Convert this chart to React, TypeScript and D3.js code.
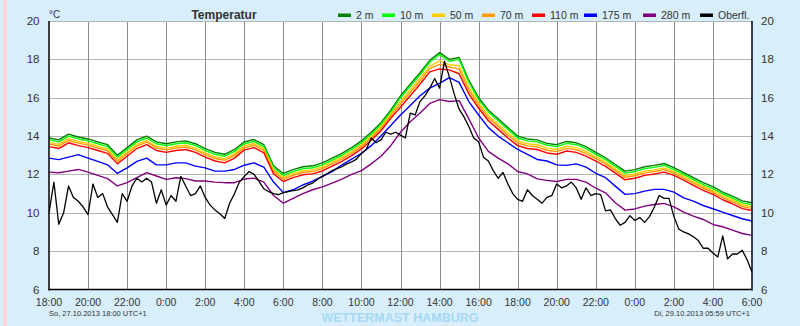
import React, { useEffect, useRef } from 'react';
import * as d3 from 'd3';

const W = 800;
const H = 326;

const seriesNames = ['2 m', '10 m', '50 m', '70 m', '110 m', '175 m', '280 m', 'Oberfl.'];
const seriesColors = ['#008000', '#00ff00', '#ffcc00', '#ff9900', '#ff0000', '#0000ff', '#800080', '#000000'];

const tickHours = [0, 2, 4, 6, 8, 10, 12, 14, 16, 18, 20, 22, 24, 26, 28, 30, 32, 34, 36];
const tickLabels = ['18:00', '20:00', '22:00', '0:00', '2:00', '4:00', '6:00', '8:00', '10:00', '12:00',
  '14:00', '16:00', '18:00', '20:00', '22:00', '0:00', '2:00', '4:00', '6:00'];
const yTicks = [6, 8, 10, 12, 14, 16, 18, 20];

// half-hourly values, 18:00 Sun -> 06:00 Tue
const t2m = [13.9, 13.8, 14.1, 13.95, 13.85, 13.7, 13.55, 13.0, 13.4, 13.8,
  14.0, 13.7, 13.6, 13.7, 13.75, 13.6, 13.35, 13.15, 13.05, 13.3,
  13.7, 13.82, 13.55, 12.45, 12.05, 12.25, 12.4, 12.45, 12.6, 12.85,
  13.1, 13.4, 13.75, 14.2, 14.7, 15.35, 16.1, 16.7, 17.3, 17.95,
  18.35, 18.0, 18.1, 16.9, 16.0, 15.35, 14.9, 14.45, 14.0, 13.85,
  13.8, 13.62, 13.55, 13.72, 13.65, 13.45, 13.15, 12.87, 12.52, 12.17,
  12.25, 12.4, 12.47, 12.57, 12.35, 12.1, 11.83, 11.57, 11.36, 11.08,
  10.87, 10.62, 10.52];
const t10m = [13.8, 13.7, 14.0, 13.85, 13.75, 13.6, 13.45, 12.9, 13.3, 13.7,
  13.9, 13.6, 13.5, 13.6, 13.65, 13.5, 13.25, 13.05, 12.95, 13.2,
  13.6, 13.72, 13.45, 12.35, 11.95, 12.15, 12.3, 12.35, 12.5, 12.75,
  13.0, 13.3, 13.65, 14.1, 14.6, 15.25, 16.0, 16.6, 17.2, 17.85,
  18.25, 17.9, 18.0, 16.8, 15.9, 15.25, 14.8, 14.35, 13.9, 13.75,
  13.7, 13.52, 13.45, 13.62, 13.55, 13.35, 13.05, 12.77, 12.42, 12.07,
  12.15, 12.3, 12.37, 12.47, 12.25, 12.0, 11.73, 11.47, 11.26, 10.98,
  10.77, 10.52, 10.42];
const t50m = [13.67, 13.57, 13.87, 13.72, 13.62, 13.47, 13.32, 12.77, 13.17, 13.57,
  13.77, 13.47, 13.37, 13.47, 13.52, 13.37, 13.12, 12.92, 12.82, 13.07,
  13.49, 13.61, 13.34, 12.24, 11.84, 12.04, 12.19, 12.24, 12.39, 12.64,
  12.89, 13.19, 13.54, 13.99, 14.49, 15.14, 15.8, 16.4, 17.0, 17.65,
  17.92, 17.72, 17.67, 16.55, 15.72, 15.07, 14.62, 14.17, 13.75, 13.6,
  13.55, 13.37, 13.3, 13.47, 13.4, 13.2, 12.92, 12.64, 12.29, 11.94,
  12.02, 12.17, 12.24, 12.34, 12.15, 11.9, 11.63, 11.37, 11.16, 10.88,
  10.67, 10.42, 10.32];
const t70m = [13.58, 13.48, 13.78, 13.63, 13.53, 13.38, 13.23, 12.68, 13.08, 13.48,
  13.68, 13.38, 13.28, 13.38, 13.43, 13.28, 13.03, 12.83, 12.73, 12.98,
  13.4, 13.52, 13.25, 12.15, 11.75, 11.95, 12.1, 12.15, 12.3, 12.55,
  12.8, 13.1, 13.45, 13.9, 14.4, 15.05, 15.67, 16.27, 16.87, 17.52,
  17.74, 17.6, 17.49, 16.4, 15.6, 14.95, 14.5, 14.05, 13.64, 13.49,
  13.44, 13.26, 13.19, 13.36, 13.29, 13.09, 12.83, 12.55, 12.2, 11.85,
  11.93, 12.08, 12.15, 12.25, 12.06, 11.81, 11.54, 11.28, 11.07, 10.79,
  10.58, 10.33, 10.23];
const t110m = [13.45, 13.35, 13.65, 13.5, 13.4, 13.25, 13.1, 12.55, 12.95, 13.35,
  13.55, 13.25, 13.15, 13.25, 13.3, 13.15, 12.9, 12.7, 12.6, 12.85,
  13.28, 13.4, 13.13, 12.03, 11.63, 11.83, 11.98, 12.03, 12.18, 12.43,
  12.68, 12.98, 13.33, 13.78, 14.28, 14.93, 15.5, 16.1, 16.7, 17.35,
  17.5, 17.45, 17.25, 16.2, 15.45, 14.8, 14.35, 13.9, 13.5, 13.35,
  13.3, 13.12, 13.05, 13.22, 13.15, 12.95, 12.7, 12.42, 12.07, 11.72,
  11.8, 11.95, 12.02, 12.12, 11.95, 11.7, 11.43, 11.17, 10.96, 10.68,
  10.47, 10.22, 10.12];
const t175m = [12.85, 12.77, 12.9, 13.03, 12.85, 12.68, 12.5, 12.05, 12.34, 12.68,
  12.85, 12.5, 12.5, 12.6, 12.6, 12.43, 12.34, 12.17, 12.17, 12.26,
  12.48, 12.6, 12.38, 11.6, 11.05, 11.2, 11.45, 11.65, 11.9, 12.15,
  12.5, 12.8, 13.1, 13.5, 14.0, 14.55, 15.1, 15.6, 16.1, 16.5,
  16.75, 17.05, 16.8, 15.8, 15.1, 14.44, 14.0, 13.65, 13.3, 13.04,
  12.78, 12.7, 12.5, 12.47, 12.55, 12.38, 12.06, 11.83, 11.39, 10.96,
  11.0, 11.13, 11.22, 11.22, 11.08, 10.78, 10.61, 10.38, 10.21, 10.03,
  9.86, 9.69, 9.57];
const t280m = [12.12, 12.09, 12.17, 12.26, 12.12, 11.95, 11.78, 11.4, 11.57, 11.83,
  12.09, 11.92, 11.74, 11.83, 11.78, 11.66, 11.66, 11.6, 11.57, 11.57,
  11.76, 11.81, 11.6, 10.9, 10.5, 10.75, 11.0, 11.2, 11.35, 11.55,
  11.75, 12.0, 12.2, 12.55, 12.95, 13.5, 14.2, 14.75, 15.2, 15.7,
  15.9, 15.8, 15.85, 14.9, 13.9, 13.2, 12.85, 12.55, 12.15, 12.03,
  11.77, 11.69, 11.63, 11.74, 11.74, 11.6, 11.28, 11.04, 10.52, 10.14,
  10.2, 10.35, 10.43, 10.49, 10.31, 10.03, 9.83, 9.65, 9.39, 9.27,
  9.1, 8.92, 8.82];
// quarter-hourly surface values
const tSurface = [10.0, 11.6, 9.4, 10.0, 11.4, 10.8, 10.6, 10.3, 9.9, 11.5,
  10.8, 11.0, 10.3, 9.9, 9.5, 11.0, 10.6, 11.4, 11.8, 11.6,
  11.8, 11.6, 10.5, 11.2, 10.4, 10.9, 10.6, 11.9, 11.4, 10.9,
  11.0, 11.4, 10.8, 10.4, 10.15, 9.95, 9.7, 10.5, 11.0, 11.6,
  11.9,
  12.15, 12.0, 11.65, 11.25, 11.1, 11.0, 10.95, 11.05, 11.1, 11.15,
  11.2, 11.3, 11.45, 11.55, 11.75, 11.9, 12.05, 12.2, 12.3, 12.4,
  12.55, 12.65, 12.8, 13.1, 13.3, 13.9, 13.65, 13.8, 14.2, 14.1,
  14.2, 14.05, 13.9, 15.2, 15.1, 15.8, 16.1, 16.5, 17.0, 16.5,
  17.9, 17.1, 16.2, 15.4, 15.0, 14.5, 13.9, 13.7, 12.9, 12.7,
  12.2, 11.8, 12.1, 11.5, 11.0, 10.7, 10.6, 11.2, 10.9, 10.7,
  10.5, 10.8, 10.9, 11.5, 11.3, 11.4, 11.6, 11.3, 10.7, 11.3,
  10.9, 11.0,
  10.95, 10.1, 10.15, 9.7, 9.35, 9.5, 9.85, 9.6, 9.75, 9.5,
  9.8, 10.3, 10.9, 10.75, 10.75, 9.8, 9.15, 9.0, 8.9, 8.75,
  8.55, 8.15, 8.15, 7.9, 7.7, 8.8, 7.6, 7.85, 7.85, 8.05,
  7.55, 6.9];

const seriesValues = [t2m, t10m, t50m, t70m, t110m, t175m, t280m, tSurface];

const font = "'Liberation Sans', Arial, sans-serif";

export default function App() {
  const ref = useRef<SVGSVGElement>(null);

  useEffect(() => {
    const svg = d3.select(ref.current);
    svg.selectAll('*').remove();

    const left = 49, right = 752, top = 21, bottom = 289.5;
    const x = d3.scaleLinear().domain([0, 36]).range([left, right]);
    const y = d3.scaleLinear().domain([6, 20]).range([bottom, top]);

    svg.append('rect').attr('width', W).attr('height', H).attr('fill', '#d8eefa');
    svg.append('rect').attr('x', 3).attr('width', 4).attr('height', H).attr('fill', '#fbd7dc');
    svg.append('rect').attr('x', left).attr('y', top).attr('width', right - left).attr('height', bottom - top).attr('fill', '#fff');

    svg.append('defs').append('clipPath').attr('id', 'plot')
      .append('rect').attr('x', left).attr('y', top - 1).attr('width', right - left).attr('height', bottom - top + 1);

    // grid
    const grid = svg.append('g');
    grid.selectAll('line.h').data(yTicks.slice(1, -1)).enter().append('line')
      .attr('x1', left).attr('x2', right)
      .attr('y1', d => Math.round(y(d)) + 0.5).attr('y2', d => Math.round(y(d)) + 0.5)
      .attr('stroke', '#b4b4b4');
    grid.selectAll('line.v').data(tickHours.slice(1, -1)).enter().append('line')
      .attr('y1', top).attr('y2', bottom)
      .attr('x1', d => Math.round(x(d)) + 0.5).attr('x2', d => Math.round(x(d)) + 0.5)
      .attr('stroke', '#8c8c8c');
    grid.append('line').attr('x1', left).attr('x2', right).attr('y1', top + 0.5).attr('y2', top + 0.5).attr('stroke', '#b4b4b4');

    // series lines
    const lines = svg.append('g').attr('clip-path', 'url(#plot)');
    seriesValues.forEach((vals, k) => {
      const step = k === 7 ? 0.25 : 0.5;
      const line = d3.line<number>().x((_, i) => x(i * step)).y(d => y(d));
      lines.append('path').attr('d', line(vals))
        .attr('fill', 'none').attr('stroke', seriesColors[k])
        .attr('stroke-width', k === 7 ? 1.3 : 1.4).attr('stroke-linejoin', 'round');
    });

    // axis frame
    svg.append('line').attr('x1', left).attr('x2', left).attr('y1', top).attr('y2', bottom + 1).attr('stroke', '#000').attr('stroke-width', 1.5);
    svg.append('line').attr('x1', right).attr('x2', right).attr('y1', top).attr('y2', bottom + 1).attr('stroke', '#000').attr('stroke-width', 1.5);
    svg.append('line').attr('x1', left).attr('x2', right).attr('y1', bottom).attr('y2', bottom).attr('stroke', '#000').attr('stroke-width', 1.5);

    const txt = svg.append('g').attr('font-family', font).attr('fill', '#333');
    txt.selectAll('text.yl').data(yTicks).enter().append('text')
      .attr('x', 39.5).attr('y', d => y(d) + 4).attr('text-anchor', 'end').attr('font-size', 11.5).text(d => d);
    txt.selectAll('text.yr').data(yTicks).enter().append('text')
      .attr('x', 761).attr('y', d => y(d) + 4).attr('font-size', 11.5).text(d => d);
    txt.selectAll('text.xl').data(tickHours).enter().append('text')
      .attr('x', d => x(d)).attr('y', 305.5).attr('text-anchor', 'middle').attr('font-size', 10.5)
      .text((_, i) => tickLabels[i]);

    txt.append('text').attr('x', 49).attr('y', 18).attr('font-size', 10).text('°C');
    txt.append('text').attr('x', 224).attr('y', 19).attr('text-anchor', 'middle')
      .attr('font-size', 12).attr('font-weight', 'bold').text('Temperatur');
    txt.append('text').attr('x', 49).attr('y', 316).attr('font-size', 7.5).text('So, 27.10.2013 18:00 UTC+1');
    txt.append('text').attr('x', 750).attr('y', 316).attr('text-anchor', 'end').attr('font-size', 7.5).text('Di, 29.10.2013 05:59 UTC+1');
    svg.append('text').attr('x', 400).attr('y', 321.5).attr('text-anchor', 'middle')
      .attr('font-family', font).attr('font-size', 12.5).attr('font-weight', 'bold')
      .attr('fill', '#a6d9f4').text('WETTERMAST HAMBURG');

    // legend
    const legendX = [338, 382, 432, 482, 532, 584, 643, 700];
    const lg = svg.append('g').attr('font-family', font);
    seriesNames.forEach((name, k) => {
      lg.append('rect').attr('x', legendX[k]).attr('y', 13.5).attr('width', 13).attr('height', 3.5).attr('fill', seriesColors[k]);
      lg.append('text').attr('x', legendX[k] + 18).attr('y', 19).attr('font-size', 10.5).attr('fill', '#333').text(name);
    });
  }, []);

  return (
    <svg ref={ref} width={W} height={H} style={{ position: 'absolute', left: 0, top: 0 }} />
  );
}
